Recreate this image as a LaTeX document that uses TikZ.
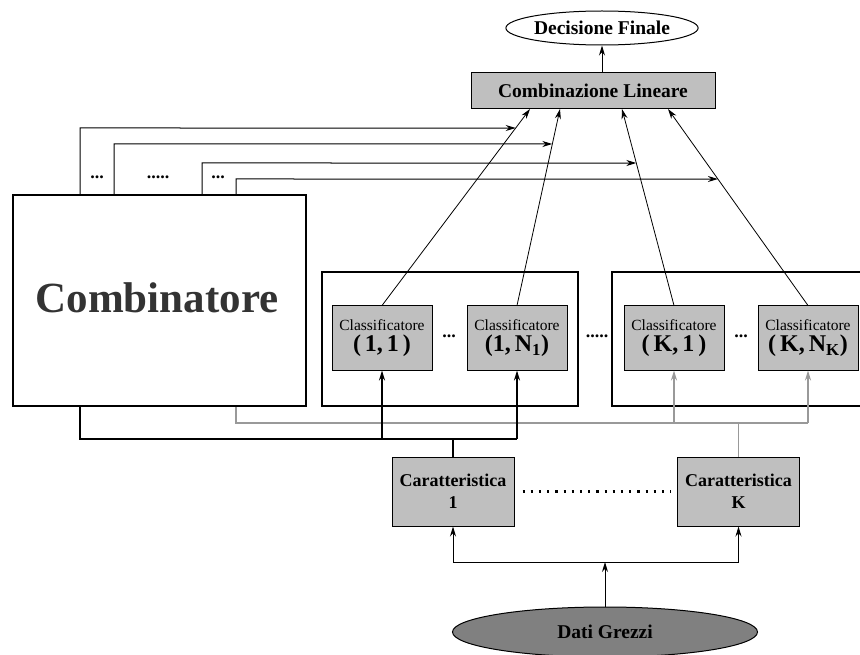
\documentclass[tikz,border=0pt]{standalone}
\usepackage{fontspec}
\setmainfont{Liberation Serif}
\usetikzlibrary{arrows.meta, shapes.geometric}

\begin{document}
\begin{tikzpicture}[x=1pt, y=-1pt,
  graybox/.style={draw, fill=black!25, line width=1pt, inner sep=0pt, align=center},
  frame/.style={draw, line width=2.4pt, inner sep=0pt},
  clsbox/.style={graybox, minimum width=100, minimum height=64},
  charbox/.style={graybox, minimum width=122, minimum height=69, font=\fontsize{18}{22}\selectfont\bfseries},
  arr/.style={-{Stealth[length=10pt, width=6pt]}},
  wire/.style={line width=1.8pt},
  graywire/.style={line width=1.8pt, black!40},
  lbl/.style={font=\fontsize{19.5}{22}\selectfont\bfseries},
  dots/.style={font=\fontsize{18}{20}\selectfont\bfseries}]
  \useasboundingbox (0,0) rectangle (860,655);
  % Top
  \node[ellipse, draw, line width=1pt, minimum width=190, minimum height=34, inner sep=0pt, lbl] (dec) at (602,28) {Decisione Finale};
  \node[graybox, minimum width=244, minimum height=36, lbl] (lin) at (593,91) {Combinazione Lineare};
  \draw[arr, line width=1pt] (lin.north -| dec.south) -- (dec.south);
  % Frames
  \node[frame, minimum width=293, minimum height=211] (comb) at (159.5,300.5) {};
  \node[font=\fontsize{43}{48}\selectfont\bfseries, black!80] (combtxt) at (157,298) {Combinatore};
  \node[frame, minimum width=256, minimum height=134] (grp1) at (450,339) {};
  \node[frame, minimum width=264, minimum height=134] (grpK) at (744,339) {};
  % Classifiers
  \node[clsbox] (c11) at (382,338) {\fontsize{15.5}{17}\selectfont Classificatore\\[3pt]\fontsize{24}{26}\selectfont\bfseries (\,1,\,1\,)};
  \node[clsbox] (c1N) at (517,338) {\fontsize{15.5}{17}\selectfont Classificatore\\[3pt]\fontsize{24}{26}\selectfont\bfseries (1,\,N\textsubscript{1})};
  \node[clsbox] (cK1) at (674,338) {\fontsize{15.5}{17}\selectfont Classificatore\\[3pt]\fontsize{24}{26}\selectfont\bfseries (\,K,\,1\,)};
  \node[clsbox] (cKN) at (808,338) {\fontsize{15.5}{17}\selectfont Classificatore\\[3pt]\fontsize{24}{26}\selectfont\bfseries (\,K,\,N\textsubscript{K})};
  \node[dots] (dots1) at (449,336) {...};
  \node[dots] (dots2) at (597,336) {.....};
  \node[dots] (dots3) at (741,336) {...};
  % Features and raw data
  \node[charbox] (ch1) at (453,491.5) {Caratteristica\\1};
  \node[charbox] (chK) at (738.5,491.5) {Caratteristica\\K};
  \draw[line width=2.2pt, dash pattern=on 2.2pt off 6pt, shorten <=8pt, shorten >=6pt] (ch1.east) -- (chK.west);
  \node[ellipse, draw, fill=black!50, line width=1pt, minimum width=305, minimum height=50, inner sep=0pt, lbl] (dati) at (605,632) {Dati Grezzi};
  \coordinate (d0) at (605,562);
  \draw[arr, line width=1pt] (dati.north) -- (dati.north |- d0);
  \draw[line width=1pt] (ch1.south |- d0) -- (chK.south |- d0);
  \draw[arr, line width=1pt] (ch1.south |- d0) -- (ch1.south);
  \draw[arr, line width=1pt] (chK.south |- d0) -- (chK.south);
  % Gray wires
  \coordinate (g0) at (236,423);
  \draw[graywire] (comb.south -| g0) -- (g0) -- (g0 -| cKN.south);
  \draw[graywire] (chK.north) -- (chK.north |- g0);
  \draw[graywire, arr] (g0 -| cK1.south) -- (cK1.south);
  \draw[graywire, arr] (g0 -| cKN.south) -- (cKN.south);
  % Black wires
  \coordinate (b0) at (80,439);
  \draw[wire] (comb.south -| b0) -- (b0) -- (b0 -| c1N.south);
  \draw[wire] (ch1.north) -- (ch1.north |- b0);
  \draw[wire, arr] (b0 -| c11.south) -- (c11.south);
  \draw[wire, arr] (b0 -| c1N.south) -- (c1N.south);
  % Classifiers to linear combination
  \coordinate (t1) at (530,109);
  \coordinate (t2) at (560,109);
  \coordinate (t3) at (622,109);
  \coordinate (t4) at (668,109);
  \draw[arr, line width=0.8pt] (c11.north) -- (t1);
  \draw[arr, line width=0.8pt] (c1N.north) -- (t2);
  \draw[arr, line width=0.8pt] (cK1.north) -- (t3);
  \draw[arr, line width=0.8pt] (cKN.north) -- (t4);
  % Weights from combinator
  \coordinate (w1) at (80,128);   \coordinate (w1e) at (700,128);
  \coordinate (w2) at (114,144);  \coordinate (w2e) at (700,144);
  \coordinate (w3) at (202,163);  \coordinate (w3e) at (700,163);
  \coordinate (w4) at (236,179);  \coordinate (w4e) at (700,179);
  \draw[arr, line width=1pt] (comb.north -| w1) -- (w1) -- (intersection of w1--w1e and c11.north--t1);
  \draw[arr, line width=1pt] (comb.north -| w2) -- (w2) -- (intersection of w2--w2e and c1N.north--t2);
  \draw[arr, line width=1pt] (comb.north -| w3) -- (w3) -- (intersection of w3--w3e and cK1.north--t3);
  \draw[arr, line width=1pt] (comb.north -| w4) -- (w4) -- (intersection of w4--w4e and cKN.north--t4);
  \node[dots] (wd1) at (97,177) {...};
  \node[dots] (wd2) at (158,177) {.....};
  \node[dots] (wd3) at (218,177) {...};
\end{tikzpicture}
\end{document}
